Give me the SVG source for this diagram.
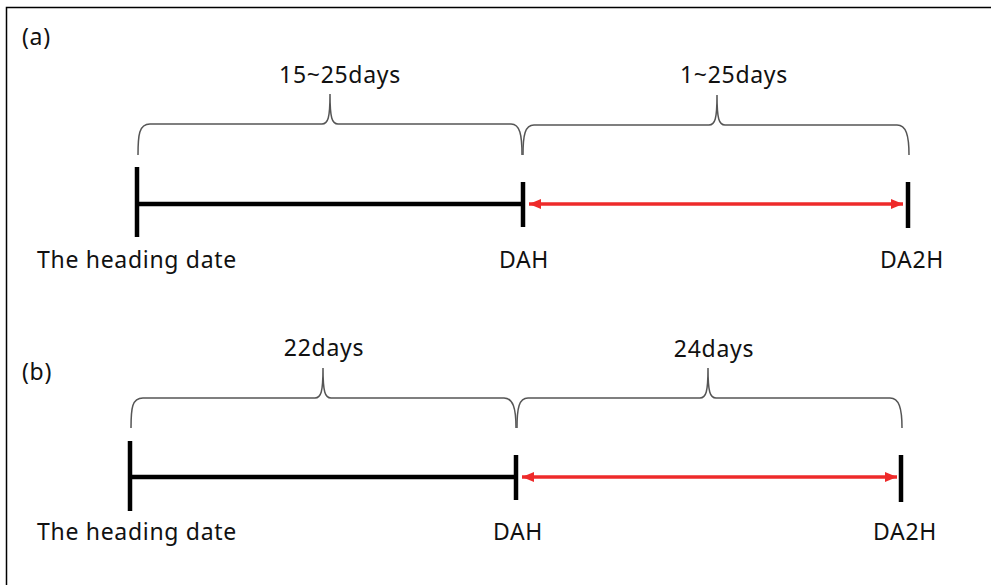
<svg xmlns="http://www.w3.org/2000/svg" width="991" height="585" viewBox="0 0 991 585">
<style>
.t{font-family:"Noto Sans","Open Sans","DejaVu Sans",sans-serif;font-size:23px;letter-spacing:0.7px;fill:#111}
.tick{stroke:#000;stroke-width:4.5;fill:none}
.axis{stroke:#000;stroke-width:4.5;fill:none}
.brace{stroke:#555;stroke-width:1.5;fill:none}
.red{stroke:#ee2a2a;stroke-width:3.5;fill:none;marker-start:url(#ah);marker-end:url(#ah)}
</style>
<defs>
<marker id="ah" viewBox="0 0 12 10" refX="12" refY="5" markerWidth="12" markerHeight="10" markerUnits="userSpaceOnUse" orient="auto-start-reverse">
<path d="M0,0 L12,5 L0,10 Z" fill="#ee2a2a"/>
</marker>
</defs>
<rect width="991" height="585" fill="#fff"/>
<path d="M6.5,592 V7.5 H999" stroke="#000" stroke-width="1.5" fill="none"/>

<g id="panel-a">
<text class="t" x="22" y="45">(a)</text>
<g id="a-heading"><line class="tick" x1="137" y1="167" x2="137" y2="237"/><text class="t" x="37" y="268">The heading date</text></g>
<g id="a-dah"><line class="tick" x1="523" y1="182" x2="523" y2="227"/><text class="t" x="524" y="268" text-anchor="middle">DAH</text></g>
<g id="a-da2h"><line class="tick" x1="908" y1="182" x2="908" y2="228"/><text class="t" x="912" y="268" text-anchor="middle">DA2H</text></g>
<g id="a-label1"><text class="t" x="340" y="83" text-anchor="middle">15~25days</text></g>
<g id="a-label2"><text class="t" x="734" y="83" text-anchor="middle">1~25days</text></g>
</g>

<g id="panel-b">
<text class="t" x="22" y="380">(b)</text>
<g id="b-heading"><line class="tick" x1="130" y1="441" x2="130" y2="511"/><text class="t" x="37" y="540">The heading date</text></g>
<g id="b-dah"><line class="tick" x1="516" y1="455" x2="516" y2="500"/><text class="t" x="518" y="540" text-anchor="middle">DAH</text></g>
<g id="b-da2h"><line class="tick" x1="901" y1="455" x2="901" y2="502"/><text class="t" x="905" y="540" text-anchor="middle">DA2H</text></g>
<g id="b-label1"><text class="t" x="324" y="356" text-anchor="middle">22days</text></g>
<g id="b-label2"><text class="t" x="714" y="357" text-anchor="middle">24days</text></g>
</g>

<g id="connectors">
<line class="axis" x1="137" y1="204" x2="523" y2="204"/>
<line class="red" x1="529" y1="204" x2="903" y2="204"/>
<path class="brace" d="M138,155 C138,135 139,124 150,124 L322,124 C328,124 330,118 330,94 C330,118 332,124 338,124 L511,124 C520,124 522,135 522,155"/>
<path class="brace" d="M523,155 C523,135 525,125 534,125 L709,125 C715,125 717,119 717,95 C717,119 719,125 725,125 L897,125 C906,125 909,135 909,155"/>

<line class="axis" x1="130" y1="477" x2="516" y2="477"/>
<line class="red" x1="522" y1="477" x2="897" y2="477"/>
<path class="brace" d="M131,428 C131,408 132,398 143,398 L315,398 C321,398 323,392 323,368 C323,392 325,398 331,398 L504,398 C513,398 516,408 516,428"/>
<path class="brace" d="M517,428 C517,408 519,398 528,398 L700,398 C706,398 708,392 708,368 C708,392 710,398 716,398 L890,398 C899,398 902,408 902,428"/>
</g>
</svg>
